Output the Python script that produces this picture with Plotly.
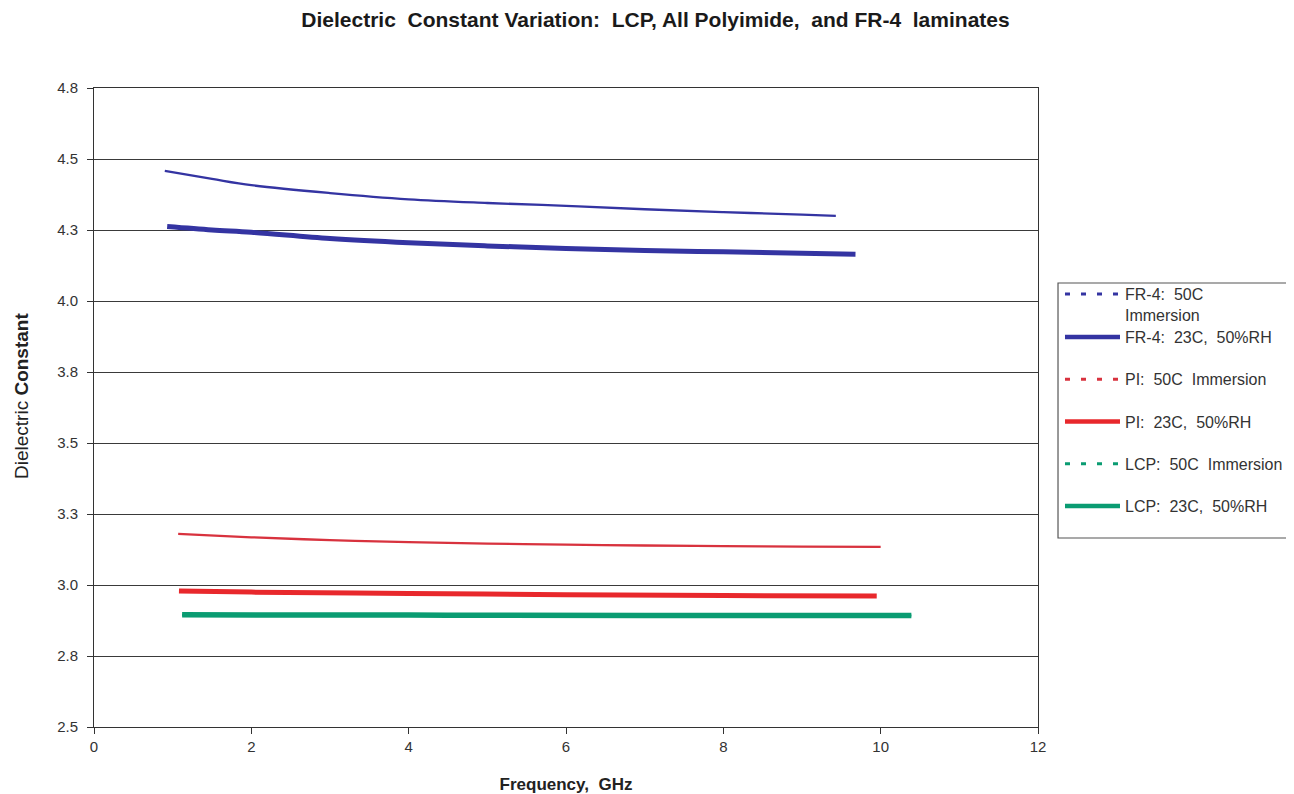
import plotly.graph_objects as go

# ---- data ----
fr4_50c_x = [0.9, 1.5, 2, 3, 4, 5, 6, 7, 8, 9, 9.43]
fr4_50c_y = [4.458, 4.43, 4.408, 4.38, 4.358, 4.345, 4.335, 4.323, 4.313, 4.304, 4.300]

fr4_23c_x = [0.93, 1.5, 2, 3, 4, 5, 6, 7, 8, 9, 9.68]
fr4_23c_y = [4.262, 4.25, 4.242, 4.22, 4.205, 4.194, 4.185, 4.178, 4.173, 4.168, 4.165]

pi_50c_x = [1.07, 2, 3, 4, 5, 6, 7, 8, 9, 10.0]
pi_50c_y = [3.180, 3.168, 3.158, 3.151, 3.146, 3.142, 3.139, 3.137, 3.135, 3.134]

pi_23c_x = [1.08, 2, 4, 6, 8, 9.95]
pi_23c_y = [2.979, 2.975, 2.970, 2.966, 2.963, 2.961]

lcp_50c_x = [1.12, 4, 7, 10.39]
lcp_50c_y = [2.894, 2.894, 2.893, 2.893]

lcp_23c_x = [1.12, 4, 7, 10.39]
lcp_23c_y = [2.895, 2.894, 2.893, 2.893]

y_tickvals = [2.5, 2.75, 3.0, 3.25, 3.5, 3.75, 4.0, 4.25, 4.5, 4.75]
y_ticktext = ["2.5", "2.8", "3.0", "3.3", "3.5", "3.8", "4.0", "4.3", "4.5", "4.8"]
x_tickvals = [0, 2, 4, 6, 8, 10, 12]

legend_names = [
    "FR-4:\u00a0 50C<br>Immersion",
    "FR-4:\u00a0 23C,\u00a0 50%RH",
    "PI:\u00a0 50C\u00a0 Immersion",
    "PI:\u00a0 23C,\u00a0 50%RH",
    "LCP:\u00a0 50C\u00a0 Immersion",
    "LCP:\u00a0 23C,\u00a0 50%RH",
]

BLUE = "#3434A2"
RED_THIN = "#D8323E"
RED = "#E8282C"
GREEN = "#0A9C72"

fig = go.Figure()

series = [
    (fr4_50c_x, fr4_50c_y, BLUE, 2.3, "dash"),
    (fr4_23c_x, fr4_23c_y, BLUE, 5, "solid"),
    (pi_50c_x, pi_50c_y, RED_THIN, 2.3, "dash"),
    (pi_23c_x, pi_23c_y, RED, 5, "solid"),
    (lcp_50c_x, lcp_50c_y, GREEN, 2, "dash"),
    (lcp_23c_x, lcp_23c_y, GREEN, 5.5, "solid"),
]

# plotted curves (drawn as continuous lines like the picture)
for (xs, ys, col, w, dash), name in zip(series, legend_names):
    fig.add_trace(go.Scatter(
        x=xs, y=ys, mode="lines", line=dict(color=col, width=w, shape="spline"),
        showlegend=False, hoverinfo="skip", name=name,
    ))

# legend entries (dashed samples for the immersion series)
for i, ((xs, ys, col, w, dash), name) in enumerate(zip(series, legend_names)):
    fig.add_trace(go.Scatter(
        x=[None], y=[None], mode="lines",
        line=dict(color=col, width=(3 if dash == "dash" else 4.5),
                  dash=("5px,11px" if dash == "dash" else "solid")),
        name=name, legendgroup=f"g{i}", showlegend=True,
        legend=("legend" if i == 0 else "legend2"),
    ))

legend_common = dict(
    xanchor="left", yanchor="top", x=1.0233,
    borderwidth=0, bgcolor="rgba(0,0,0,0)",
    font=dict(size=16, color="#333333"),
    tracegroupgap=18.5, valign="top", itemwidth=55,
)

fig.update_layout(
    width=1286, height=786,
    margin=dict(l=86, r=256, t=80, b=67, autoexpand=False),
    paper_bgcolor="white", plot_bgcolor="white",
    font=dict(family="Liberation Sans, Arial, sans-serif", size=14, color="#333333"),
    title=dict(
        text="<b>Dielectric\u00a0 Constant Variation:\u00a0 LCP, All Polyimide,\u00a0 and FR-4\u00a0 laminates</b>",
        x=0.5035, xanchor="center", y=0.985, yanchor="middle",
        font=dict(size=21, color="#1a1a1a"),
    ),
    legend=dict(y=0.7042, **legend_common),
    legend2=dict(y=0.6369, **legend_common),
    showlegend=True,
    shapes=[dict(
        type="rect", xref="paper", yref="paper",
        x0=1.0212, x1=1.2701, y0=0.2958, y1=0.6948,
        line=dict(color="#555555", width=1.2), fillcolor="rgba(0,0,0,0)",
    )],
    annotations=[dict(
        text="Dielectric <b>Constant</b>", textangle=-90,
        xref="paper", yref="paper", x=-0.0763, y=0.518,
        xanchor="center", yanchor="middle", showarrow=False,
        font=dict(size=19, color="#222222"),
    )],
)

fig.update_xaxes(
    range=[0, 12], tickvals=x_tickvals, ticks="outside", ticklen=6, tickcolor="#333333",
    showline=True, linecolor="#333333", linewidth=1, mirror=True,
    showgrid=False, zeroline=False,
    tickfont=dict(size=15, color="#333333"),
    title=dict(text="<b>Frequency,\u00a0 GHz</b>", font=dict(size=17, color="#222222"), standoff=24),
)
fig.update_yaxes(
    range=[2.5, 4.75], tickvals=y_tickvals, ticktext=y_ticktext,
    ticks="outside", ticklen=6, tickcolor="#333333",
    showline=True, linecolor="#333333", linewidth=1, mirror=True,
    showgrid=True, gridcolor="#3a3a3a", gridwidth=1, zeroline=False,
    tickfont=dict(size=15, color="#333333"), ticklabelstandoff=6,
)

fig.write_html("out.html")
